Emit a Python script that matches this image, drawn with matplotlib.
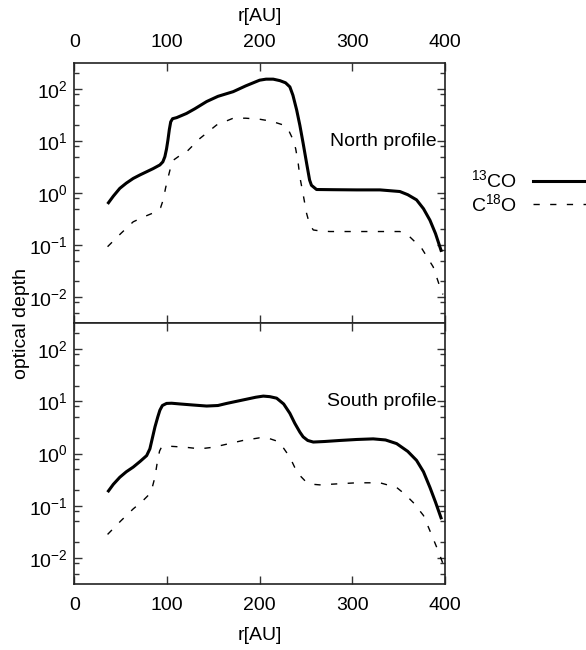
import matplotlib
matplotlib.use("Agg")
import matplotlib.pyplot as plt
import matplotlib.ticker as mticker
from matplotlib.lines import Line2D

plt.rcParams['font.family'] = ['Liberation Sans', 'DejaVu Sans']
plt.rcParams['mathtext.fontset'] = 'custom'
plt.rcParams['mathtext.rm'] = 'Liberation Sans'
plt.rcParams['mathtext.it'] = 'Liberation Sans:italic'
plt.rcParams['font.size'] = 14
plt.rcParams['axes.unicode_minus'] = False

# North profile, 13CO
r_n13 = [35.8, 42, 49, 56, 63.5, 71, 78, 85, 92.3, 95.5, 97.7, 99.5, 101, 102.5, 104, 106,
         110.4, 121, 130, 142.8, 155, 171.5, 185, 200, 207, 214.7, 222, 228, 232.7, 236,
         240, 243.5, 247, 251, 254, 256, 261.5, 280, 304.7, 330, 351.5, 360, 369.5, 377,
         384, 390, 396.5]
tau_n13 = [0.617, 0.871, 1.23, 1.55, 1.91, 2.24, 2.57, 2.95, 3.47, 3.98, 5.01, 7.08, 10.5,
           16.6, 23.4, 26.9, 28.2, 33.9, 41.7, 57.5, 72.4, 89.1, 115, 148, 155, 155, 145,
           132, 110, 75.9, 39.8, 20.0, 9.12, 3.55, 1.78, 1.41, 1.17, 1.16, 1.15, 1.15, 1.07,
           0.93, 0.74, 0.50, 0.30, 0.166, 0.074]

# North profile, C18O
r_n18 = [35.8, 50, 63.5, 76, 88.7, 93, 95.9, 98.5, 101.3, 104, 106.7, 113, 121, 135.5,
         153.6, 171.5, 185, 200, 213, 225.5, 231, 236.3, 239, 241.7, 243.5, 247, 250.7,
         254, 258, 266, 276, 300, 330, 351.5, 362, 375, 387.5, 394.7, 398]
tau_n18 = [0.093, 0.166, 0.28, 0.355, 0.44, 0.52, 0.74, 1.26, 2.04, 3.16, 4.27, 5.13, 6.17,
           11.2, 20.4, 27.5, 27.5, 26.3, 24.0, 20.4, 16.6, 10.5, 7.08, 3.72, 2.04, 0.95,
           0.41, 0.25, 0.195, 0.186, 0.182, 0.182, 0.182, 0.182, 0.145, 0.087, 0.038,
           0.0158, 0.0112]

# South profile, 13CO
r_s13 = [35.8, 42, 49, 56, 63.5, 71, 78, 81.5, 84, 87, 90, 92.3, 95, 99.5, 105, 114, 128,
         142.8, 155, 164.4, 175, 186, 196, 204, 211, 218.4, 226, 232.7, 238, 243.5, 247,
         252, 258, 270, 286.7, 305, 322.7, 336, 348, 360, 369.5, 377, 384, 390, 396.5]
tau_s13 = [0.182, 0.257, 0.351, 0.447, 0.55, 0.708, 0.912, 1.23, 1.91, 3.24, 5.01, 6.76,
           8.32, 9.12, 9.2, 8.91, 8.51, 8.13, 8.32, 9.12, 10.0, 11.0, 12.0, 12.6, 12.3,
           11.5, 8.9, 5.89, 3.8, 2.57, 2.09, 1.78, 1.66, 1.70, 1.78, 1.86, 1.91, 1.82,
           1.55, 1.10, 0.74, 0.447, 0.224, 0.117, 0.055]

# South profile, C18O
r_s18 = [35.8, 50, 63.5, 73, 81.5, 84.5, 87, 89, 90.5, 92, 94, 103, 120, 135.5, 150, 164.4,
         182, 200, 210, 218.4, 226, 232.7, 238, 243.5, 250.7, 258, 265, 285, 304.7, 330,
         348, 357, 366, 377, 384, 393, 398]
tau_s18 = [0.0282, 0.051, 0.087, 0.12, 0.17, 0.24, 0.355, 0.60, 0.85, 1.12, 1.32, 1.38,
           1.32, 1.23, 1.32, 1.51, 1.78, 2.0, 1.95, 1.74, 1.26, 0.85, 0.54, 0.38, 0.28,
           0.257, 0.251, 0.263, 0.275, 0.275, 0.224, 0.166, 0.115, 0.065, 0.033, 0.0135,
           0.0078]

xticks = [0, 100, 200, 300, 400]
panel_names = ["North profile", "South profile"]

fig = plt.figure(figsize=(5.86, 6.5), dpi=100)
ax1 = fig.add_axes([0.127, 0.503, 0.632, 0.400])
ax2 = fig.add_axes([0.127, 0.1015, 0.632, 0.4015])

dash = (0, (4.5, 7.5))
for ax, (r13, t13, r18, t18), name in zip(
        [ax1, ax2],
        [(r_n13, tau_n13, r_n18, tau_n18), (r_s13, tau_s13, r_s18, tau_s18)],
        panel_names):
    ax.plot(r13, t13, color='black', lw=2.2, solid_capstyle='butt')
    ax.plot(r18, t18, color='black', lw=1.0, linestyle=dash)
    ax.set_yscale('log')
    ax.set_xlim(0, 400)
    ax.set_ylim(10 ** -2.5, 10 ** 2.5)
    ax.set_xticks(xticks)
    ax.yaxis.set_major_locator(mticker.LogLocator(base=10, numticks=10))
    ax.yaxis.set_minor_locator(mticker.LogLocator(base=10, subs=(2, 5, 8), numticks=10))
    ax.yaxis.set_minor_formatter(mticker.NullFormatter())
    ax.tick_params(which='both', direction='in', top=True, right=True, width=1.0,
                   color='#333333')
    ax.tick_params(which='major', length=6, pad=9)
    ax.tick_params(which='minor', length=3.5)
    ax.tick_params(axis='y', which='major', pad=5)
    for sp in ax.spines.values():
        sp.set_linewidth(1.2)
        sp.set_color('#222222')
    ax.text(391.5, 10, name, ha='right', va='center', fontsize=14)

ax1.tick_params(axis='x', labeltop=True, labelbottom=False)
ax1.set_xlabel('r[AU]')
ax1.xaxis.set_label_position('top')
ax1.xaxis.labelpad = 9
ax2.set_xlabel('r[AU]')
ax2.xaxis.labelpad = 10

fig.text(0.036, 0.503, 'optical depth', rotation=90, ha='center', va='center',
         fontsize=14)

handles = [Line2D([], [], color='black', lw=2.2),
           Line2D([], [], color='black', lw=1.0, linestyle=dash)]
fig.legend(handles, [r'$^{13}$CO', r'C$^{18}$O'], loc='center left',
           bbox_to_anchor=(0.774, 0.704), frameon=False, markerfirst=False,
           handlelength=3.2, handletextpad=0.8, labelspacing=0.1, borderpad=0.4,
           fontsize=14)

fig.savefig('out.png', dpi=100)
